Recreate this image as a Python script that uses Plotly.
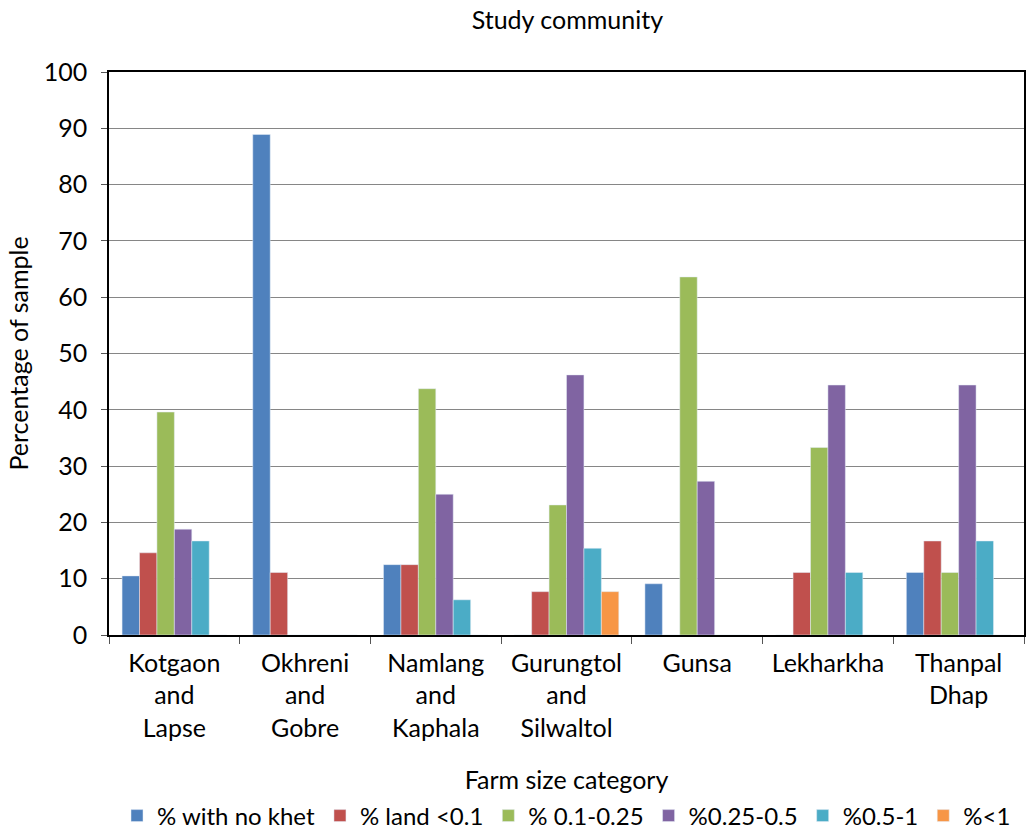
import plotly.graph_objects as go

categories = ["Kotgaon<br>and<br>Lapse", "Okhreni<br>and<br>Gobre", "Namlang<br>and<br>Kaphala",
              "Gurungtol<br>and<br>Silwaltol", "Gunsa", "Lekharkha", "Thanpal<br>Dhap"]

no_khet = [10.5, 88.9, 12.5, 0, 9.1, 0, 11.1]
land_lt_01 = [14.6, 11.1, 12.5, 7.7, 0, 11.1, 16.7]
land_01_025 = [39.6, 0, 43.75, 23.1, 63.6, 33.3, 11.1]
land_025_05 = [18.8, 0, 25.0, 46.2, 27.3, 44.4, 44.4]
land_05_1 = [16.7, 0, 6.25, 15.4, 0, 11.1, 16.7]
land_lt_1 = [0, 0, 0, 7.7, 0, 0, 0]

series = [
    ("% with no khet", no_khet, "#4F81BD"),
    ("% land <0.1", land_lt_01, "#C0504D"),
    ("% 0.1-0.25", land_01_025, "#9BBB59"),
    ("%0.25-0.5", land_025_05, "#8064A2"),
    ("%0.5-1", land_05_1, "#4BACC6"),
    ("%<1", land_lt_1, "#F79646"),
]

font = "Lato, 'Open Sans', sans-serif"

fig = go.Figure()
for name, vals, color in series:
    fig.add_trace(go.Bar(x=categories, y=vals, name=name, marker_color=color))

fig.update_layout(
    width=1026, height=834,
    margin=dict(l=109, r=2, t=72, b=199),
    plot_bgcolor="white", paper_bgcolor="white",
    font=dict(family=font, size=25, color="black"),
    barmode="group", bargap=0.2, bargroupgap=0,
    showlegend=True,
    legend=dict(orientation="h", x=0.5, xanchor="center",
                yref="container", y=(834 - 816) / 834, yanchor="middle",
                font=dict(size=24), itemwidth=30, traceorder="normal"),
    title=dict(text="Study community", x=0.553, xanchor="center",
               y=1 - 20 / 834, yanchor="middle", font=dict(size=25)),
)

fig.update_xaxes(
    automargin=False,
    showline=True, linecolor="black", linewidth=1.5, mirror=True,
    ticks="outside", tickson="boundaries", ticklen=7, tickcolor="#555", ticklabelstandoff=5,
    title=dict(text="Farm size category", standoff=31, font=dict(size=25)),
)
fig.update_yaxes(
    automargin=False,
    range=[0, 100], dtick=10,
    showline=True, linecolor="black", linewidth=1.5, mirror=True,
    showgrid=True, gridcolor="#868686", gridwidth=1,
    ticks="outside", ticklen=6, tickcolor="#555", ticklabelstandoff=9,
    title=dict(text="Percentage of sample", standoff=8, font=dict(size=25)),
    zeroline=False,
)

# page body has a default 8px margin; drop it so the figure fills the window
fig.write_html("out.html", config={"displayModeBar": False},
               post_script="document.body.style.margin='0';document.body.style.overflow='hidden';")
